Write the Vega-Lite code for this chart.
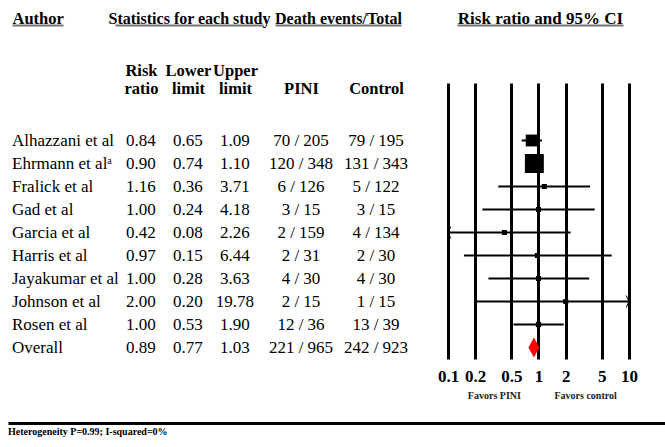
{
  "$schema": "https://vega.github.io/schema/vega-lite/v6.json",
  "autosize": {"type": "none"},
  "padding": {"left": 0, "top": 129, "right": 665, "bottom": 318},
  "background": "white",
  "config": {
    "view": {"stroke": null},
    "font": "Liberation Serif",
    "text": {"font": "Liberation Serif", "fontSize": 17, "color": "black"},
    "axis": {"titleFont": "Liberation Serif", "labelFont": "Liberation Serif"}
  },
  "datasets": {
    "studies": [
      {"author": "Alhazzani et al", "rr": 0.84, "lo": 0.65, "hi": 1.09, "pini": "70 / 205", "control": "79 / 195", "weight": 32.8, "kind": "study"},
      {"author": "Ehrmann et alᵃ", "rr": 0.90, "lo": 0.74, "hi": 1.10, "pini": "120 / 348", "control": "131 / 343", "weight": 55.9, "kind": "study"},
      {"author": "Fralick et al", "rr": 1.16, "lo": 0.36, "hi": 3.71, "pini": "6 / 126", "control": "5 / 122", "weight": 1.6, "kind": "study"},
      {"author": "Gad et al", "rr": 1.00, "lo": 0.24, "hi": 4.18, "pini": "3 / 15", "control": "3 / 15", "weight": 1.1, "kind": "study"},
      {"author": "Garcia et al", "rr": 0.42, "lo": 0.08, "hi": 2.26, "pini": "2 / 159", "control": "4 / 134", "weight": 0.8, "kind": "study"},
      {"author": "Harris et al", "rr": 0.97, "lo": 0.15, "hi": 6.44, "pini": "2 / 31", "control": "2 / 30", "weight": 0.6, "kind": "study"},
      {"author": "Jayakumar et al", "rr": 1.00, "lo": 0.28, "hi": 3.63, "pini": "4 / 30", "control": "4 / 30", "weight": 1.3, "kind": "study"},
      {"author": "Johnson et al", "rr": 2.00, "lo": 0.20, "hi": 19.78, "pini": "2 / 15", "control": "1 / 15", "weight": 0.4, "kind": "study"},
      {"author": "Rosen et al", "rr": 1.00, "lo": 0.53, "hi": 1.90, "pini": "12 / 36", "control": "13 / 39", "weight": 5.4, "kind": "study"},
      {"author": "Overall", "rr": 0.89, "lo": 0.77, "hi": 1.03, "pini": "221 / 965", "control": "242 / 923", "weight": 100, "kind": "overall"}
    ]
  },
  "spacing": 294,
  "bounds": "flush",
  "vconcat": [
    {
      "spacing": 0,
      "bounds": "flush",
      "hconcat": [
        {
          "width": 115,
          "height": 230,
          "data": {"name": "studies"},
          "mark": {"type": "text", "align": "left", "fontSize": 17},
          "encoding": {
            "x": {
              "datum": "Author",
              "type": "nominal",
              "bandPosition": 0,
              "scale": {"type": "band", "range": [12, 63], "paddingInner": 0, "paddingOuter": 0},
              "axis": {"orient": "top", "offset": 104, "labels": false, "ticks": false, "domain": true, "domainColor": "#777777", "domainWidth": 2, "title": "Author", "titleAnchor": "start", "titleAlign": "left", "titleBaseline": "alphabetic", "titleY": -2, "titleFontSize": 16.5, "titleFontWeight": "bold", "titleColor": "black"}
            },
            "y": {"field": "author", "type": "nominal", "sort": null, "scale": {"type": "point", "padding": 0.5, "domain": ["Alhazzani et al", "Ehrmann et alᵃ", "Fralick et al", "Gad et al", "Garcia et al", "Harris et al", "Jayakumar et al", "Johnson et al", "Rosen et al", "Overall"]}, "axis": null},
            "text": {"field": "author"}
          }
        },
        {
          "width": 160,
          "height": 230,
          "data": {"name": "studies"},
          "encoding": {
            "y": {"field": "author", "type": "nominal", "sort": null, "scale": {"type": "point", "padding": 0.5, "domain": ["Alhazzani et al", "Ehrmann et alᵃ", "Fralick et al", "Gad et al", "Garcia et al", "Harris et al", "Jayakumar et al", "Johnson et al", "Rosen et al", "Overall"]}, "axis": null}
          },
          "layer": [
            {
              "mark": {"type": "text", "fontSize": 17},
              "encoding": {
                "x": {
                  "datum": "Risk ratio",
                  "type": "nominal",
                  "scale": {"type": "point", "domain": ["Risk ratio", "Lower limit", "Upper limit"], "range": [0, 148], "padding": 0.574, "align": 0.481},
                  "axis": {"orient": "top", "offset": 104, "ticks": false, "tickSize": 0, "domain": true, "domainColor": "#777777", "domainWidth": 2, "labelExpr": "split(datum.label, ' ')", "labelPadding": -45, "labelBaseline": "middle", "labelLineHeight": 18, "labelFontSize": 16.5, "labelFontWeight": "bold", "labelColor": "black", "labelAngle": 0, "labelOverlap": false, "labelFlush": false, "title": "Statistics for each study", "titleBaseline": "alphabetic", "titleY": -2, "titleFontSize": 16, "titleFontWeight": "bold", "titleColor": "black"}
                },
                "text": {"field": "rr", "type": "quantitative", "format": ".2f"}
              }
            },
            {
              "mark": {"type": "text", "fontSize": 17},
              "encoding": {
                "x": {"datum": "Lower limit", "type": "nominal"},
                "text": {"field": "lo", "type": "quantitative", "format": ".2f"}
              }
            },
            {
              "mark": {"type": "text", "fontSize": 17},
              "encoding": {
                "x": {"datum": "Upper limit", "type": "nominal"},
                "text": {"field": "hi", "type": "quantitative", "format": ".2f"}
              }
            }
          ]
        },
        {
          "width": 145,
          "height": 230,
          "data": {"name": "studies"},
          "encoding": {
            "y": {"field": "author", "type": "nominal", "sort": null, "scale": {"type": "point", "padding": 0.5, "domain": ["Alhazzani et al", "Ehrmann et alᵃ", "Fralick et al", "Gad et al", "Garcia et al", "Harris et al", "Jayakumar et al", "Johnson et al", "Rosen et al", "Overall"]}, "axis": null}
          },
          "layer": [
            {
              "mark": {"type": "text", "fontSize": 17},
              "encoding": {
                "x": {
                  "datum": "PINI",
                  "type": "nominal",
                  "scale": {"type": "point", "domain": ["PINI", "Control"], "range": [0, 126], "padding": 0.34, "align": 0.51},
                  "axis": {"orient": "top", "offset": 104, "ticks": false, "tickSize": 0, "domain": true, "domainColor": "#777777", "domainWidth": 2, "labelPadding": -63, "labelBaseline": "middle", "labelFontSize": 16.5, "labelFontWeight": "bold", "labelColor": "black", "labelAngle": 0, "labelOverlap": false, "labelFlush": false, "title": "Death events/Total", "titleBaseline": "alphabetic", "titleY": -2, "titleFontSize": 16, "titleFontWeight": "bold", "titleColor": "black"}
                },
                "text": {"field": "pini", "type": "nominal"}
              }
            },
            {
              "mark": {"type": "text", "fontSize": 17},
              "encoding": {
                "x": {"datum": "Control", "type": "nominal"},
                "text": {"field": "control", "type": "nominal"}
              }
            }
          ]
        },
        {
          "width": 245,
          "height": 230,
          "resolve": {"scale": {"x": "independent"}, "axis": {"x": "independent"}},
          "layer": [
            {
              "data": {"name": "studies"},
              "encoding": {
                "y": {"field": "author", "type": "nominal", "sort": null, "scale": {"type": "point", "padding": 0.5, "range": [0, 276], "domain": ["Alhazzani et al", "Ehrmann et alᵃ", "Fralick et al", "Gad et al", "Garcia et al", "Harris et al", "Jayakumar et al", "Johnson et al", "Rosen et al", "Overall", "gap", "Favors"]}, "axis": null}
              },
              "layer": [
                {
                  "transform": [{"filter": "datum.kind == 'study'"}],
                  "mark": {"type": "rule", "strokeWidth": 2, "color": "black"},
                  "encoding": {
                    "x": {
                      "field": "lo",
                      "type": "quantitative",
                      "scale": {"type": "log", "domain": [0.1, 10], "range": [28, 209], "clamp": true, "nice": false},
                      "axis": {"orient": "bottom", "values": [0.1, 0.2, 0.5, 1, 2, 5, 10], "format": "~g", "grid": true, "gridColor": "black", "gridWidth": 3, "gridOpacity": 1, "domain": false, "ticks": false, "tickSize": 0, "labelPadding": 9, "labelFontSize": 17, "labelFontWeight": "bold", "labelColor": "black", "labelFlush": false, "labelOverlap": false, "title": null}
                    },
                    "x2": {"field": "hi"}
                  }
                },
                {
                  "transform": [{"filter": "datum.kind == 'study'"}],
                  "mark": {"type": "point", "shape": "square", "filled": true, "color": "black", "opacity": 1},
                  "encoding": {
                    "x": {"field": "rr", "type": "quantitative"},
                    "size": {"field": "weight", "type": "quantitative", "scale": {"type": "pow", "exponent": 2, "domain": [0, 56], "range": [25, 361]}, "legend": null}
                  }
                },
                {
                  "transform": [{"filter": "datum.kind == 'overall'"}],
                  "mark": {"type": "point", "shape": "M -0.55 0 L 0 -1 L 0.55 0 L 0 1 Z", "filled": true, "color": "#ff0000", "size": 400, "opacity": 1},
                  "encoding": {
                    "x": {"field": "rr", "type": "quantitative"}
                  }
                },
                {
                  "transform": [{"filter": "datum.lo < 0.1"}],
                  "mark": {"type": "point", "shape": "M 1.4 -3 L 0 0 L 1.4 3", "filled": false, "color": "black", "size": 16, "strokeWidth": 1, "opacity": 1},
                  "encoding": {
                    "x": {"field": "lo", "type": "quantitative"}
                  }
                },
                {
                  "transform": [{"filter": "datum.hi > 10"}],
                  "mark": {"type": "point", "shape": "M -1.4 -3 L 0 0 L -1.4 3", "filled": false, "color": "black", "size": 16, "strokeWidth": 1, "opacity": 1},
                  "encoding": {
                    "x": {"field": "hi", "type": "quantitative"}
                  }
                }
              ]
            },
            {
              "data": {"values": [{"note": "Favors PINI"}, {"note": "Favors control"}]},
              "mark": {"type": "text", "fontSize": 10, "fontWeight": "bold", "color": "#222222", "dy": 2},
              "encoding": {
                "x": {
                  "field": "note",
                  "type": "nominal",
                  "sort": null,
                  "scale": {"type": "point", "domain": ["Favors PINI", "Favors control"], "range": [37, 203], "padding": 0.41},
                  "axis": {"orient": "top", "offset": 104, "labels": false, "ticks": false, "domain": true, "domainColor": "#777777", "domainWidth": 2, "title": "Risk ratio and 95% CI", "titleBaseline": "alphabetic", "titleY": -2, "titleFontSize": 17, "titleFontWeight": "bold", "titleColor": "black"}
                },
                "y": {"datum": "Favors", "type": "nominal", "axis": null},
                "text": {"field": "note"}
              }
            }
          ]
        }
      ]
    },
    {
      "width": 665,
      "height": 18,
      "data": {"values": [{"note": "Heterogeneity P=0.99; I-squared=0%"}]},
      "mark": {"type": "text", "align": "left", "fontSize": 10, "fontWeight": "bold", "color": "black"},
      "encoding": {
        "x": {
          "field": "note",
          "type": "nominal",
          "bandPosition": 0,
          "scale": {"type": "band", "range": [8, 665], "paddingInner": 0, "paddingOuter": 0},
          "axis": {"orient": "top", "labels": false, "ticks": false, "domain": true, "domainColor": "black", "domainWidth": 3, "title": null}
        },
        "text": {"field": "note"}
      }
    }
  ]
}
